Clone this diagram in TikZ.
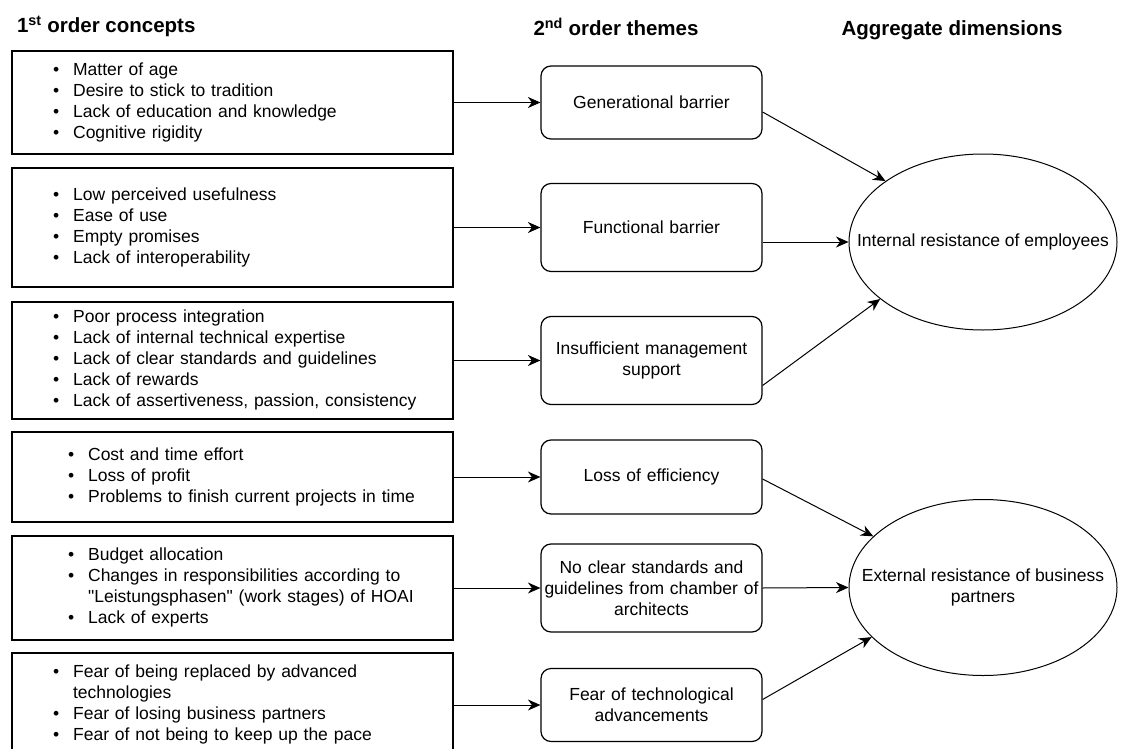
\documentclass[tikz,border=0pt]{standalone}
\usepackage{fontspec}
\setmainfont{Liberation Sans}
\usetikzlibrary{positioning,shapes.geometric,arrows.meta}

\newenvironment{bullets}{\begin{tabular}{@{}l@{\hspace{14pt}}l@{}}}{\end{tabular}}

\begin{document}
\begin{tikzpicture}[x=1pt, y=-1pt, node distance=419pt, line width=1pt,
    >={Stealth[length=12.5pt, width=11pt, inset=4pt]},
    font=\fontsize{17.5}{21}\selectfont,
    head/.style = {inner sep=0pt, anchor=base west, font=\fontsize{20.5}{22}\selectfont\bfseries},
    concept/.style = {draw, line width=1.2pt, minimum height=#1, inner xsep=41pt, text width=359pt, align=left},
    theme/.style = {draw, line width=1.2pt, rounded corners=10pt, minimum height=#1, inner xsep=3pt, text width=215pt, align=center},
    dim/.style = {draw, ellipse, minimum width=268pt, minimum height=176pt, inner sep=0pt, label={[align=center]center:#1}}]
    \useasboundingbox (0,0) rectangle (1121,749);

    % headers
    \node[head] (h1) at (16.5,33) {1\textsuperscript{st} order concepts};
    \node[head] (h2) at (533,36) {2\textsuperscript{nd} order themes};
    \node[head] (h3) at (841,36) {Aggregate dimensions};

    % 1st order concepts
    \node[concept=103] (c1) at (232.5,102.5) {\begin{bullets}
        \textbullet & Matter of age\\
        \textbullet & Desire to stick to tradition\\
        \textbullet & Lack of education and knowledge\\
        \textbullet & Cognitive rigidity
    \end{bullets}};
    \node[concept=119] (c2) at (232.5,227.5) {\begin{bullets}
        \textbullet & Low perceived usefulness\\
        \textbullet & Ease of use\\
        \textbullet & Empty promises\\
        \textbullet & Lack of interoperability
    \end{bullets}};
    \node[concept=117] (c3) at (232.5,360.5) {\begin{bullets}
        \textbullet & Poor process integration\\
        \textbullet & Lack of internal technical expertise\\
        \textbullet & Lack of clear standards and guidelines\\
        \textbullet & Lack of rewards\\
        \textbullet & Lack of assertiveness, passion, consistency
    \end{bullets}};
    \node[concept=90, inner xsep=56pt, text width=329pt] (c4) at (232.5,477) {\begin{bullets}
        \textbullet & Cost and time effort\\
        \textbullet & Loss of profit\\
        \textbullet & Problems to finish current projects in time
    \end{bullets}};
    \node[concept=104, inner xsep=56pt, text width=329pt] (c5) at (232.5,588) {\begin{bullets}
        \textbullet & Budget allocation\\
        \textbullet & Changes in responsibilities according to\\
                    & \textquotedbl Leistungsphasen\textquotedbl{} (work stages) of HOAI\\
        \textbullet & Lack of experts
    \end{bullets}};
    \node[concept=104] (c6) at (232.5,705) {\begin{bullets}
        \textbullet & Fear of being replaced by advanced\\
                    & technologies\\
        \textbullet & Fear of losing business partners\\
        \textbullet & Fear of not being to keep up the pace
    \end{bullets}};

    % 2nd order themes
    \node[theme=73] (t1) [right of=c1] {Generational barrier};
    \node[theme=88] (t2) [right of=c2] {Functional barrier};
    \node[theme=88] (t3) [right of=c3] {Insufficient management\\support};
    \node[theme=74] (t4) [right of=c4] {Loss of efficiency};
    \node[theme=88] (t5) [right of=c5] {No clear standards and\\guidelines from chamber of\\architects};
    \node[theme=73] (t6) [right of=c6] {Fear of technological\\advancements};

    % aggregate dimensions
    \node[dim={Internal resistance of employees}] (a1) at (983,242) {};
    \node[dim={External resistance of business\\partners}] (a2) at (983,587.5) {};

    \draw[->] (c1) -- (t1);
    \draw[->] (c2) -- (t2);
    \draw[->] (c3) -- (t3);
    \draw[->] (c4) -- (t4);
    \draw[->] (c5) -- (t5);
    \draw[->] (c6) -- (t6);

    \draw[->] ([yshift=-9.5pt]t1.east) -- (a1.148.5);
    \draw[->] (a1.west -| t2.east) -- (a1.west);
    \draw[->] ([yshift=-25pt]t3.east) -- (a1.209.7);
    \draw[->] ([yshift=-2pt]t4.east) -- (a2.155);
    \draw[->] (t5.east) -- (a2.west);
    \draw[->] ([yshift=5.5pt]t6.east) -- (a2.204);
\end{tikzpicture}
\end{document}
